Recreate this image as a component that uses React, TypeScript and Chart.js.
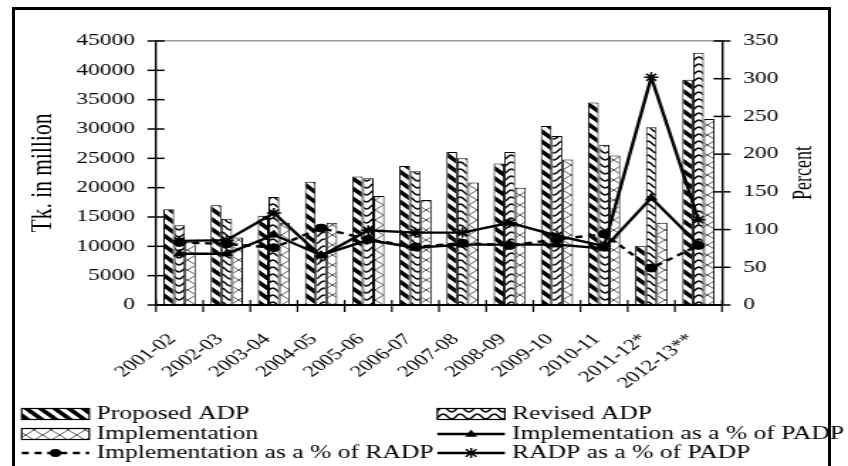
import React, { useEffect, useRef } from 'react';
import { Chart, registerables } from 'chart.js';

Chart.register(...registerables);

// ---------- data ----------
const categories = [
  '2001-02', '2002-03', '2003-04', '2004-05', '2005-06', '2006-07',
  '2007-08', '2008-09', '2009-10', '2010-11', '2011-12*', '2012-13**',
];
const proposedADP = [16300, 17000, 15200, 21000, 21900, 23700, 26100, 24100, 30500, 34500, 10100, 38400];
const revisedADP = [13600, 14700, 18400, 13700, 21600, 22800, 25000, 26100, 28800, 27300, 30300, 43000];
const implementation = [10700, 11500, 14000, 14000, 18600, 17900, 20900, 20000, 24800, 25500, 14000, 31700];
const implPctPADP = [68, 68, 93, 66, 86, 76, 80, 80, 80, 75, 142, 80];
const implPctRADP = [83, 81, 76, 102, 87, 77, 82, 79, 87, 94, 49, 79];
const radpPctPADP = [85, 86, 122, 65, 99, 96, 96, 109, 92, 78, 302, 113];

const seriesLabels = [
  'Proposed ADP',
  'Revised ADP',
  'Implementation',
  'Implementation as a % of PADP',
  'Implementation as a % of RADP',
  'RADP as a % of PADP',
];
const leftMax = 45000;
const leftStep = 5000;
const rightMax = 350;
const rightStep = 50;
const leftTitle = 'Tk. in million';
const rightTitle = 'Percent';

// ---------- layout (internal canvas units; canvas is stretched horizontally) ----------
const W = 848;
const H = 466;
const IW = 597;
const S = W / IW;
const PLOT_LEFT = 109.8;
const PLOT_RIGHT = 508.3;
const FONT = '"Liberation Serif", "Times New Roman", serif';
const LEG_COL_X = [15.3, 307.9];
const LEG_ROW_Y = [414, 434, 453];
const LEG_SW_W = 47.5;
const LEG_SW_H = 11;
const LEG_TEXT_GAP = 52.6;

function tile(w: number, h: number, draw: (c: CanvasRenderingContext2D) => void) {
  const c = document.createElement('canvas');
  c.width = w;
  c.height = h;
  const g = c.getContext('2d')!;
  g.fillStyle = '#fff';
  g.fillRect(0, 0, w, h);
  draw(g);
  return c;
}

function makePatterns(ctx: CanvasRenderingContext2D) {
  const stripes = tile(10, 10, (g) => {
    g.strokeStyle = '#000';
    g.lineWidth = 3.6;
    for (const x0 of [-10, 0, 10]) {
      g.beginPath();
      g.moveTo(x0 - 1, -1);
      g.lineTo(x0 + 11, 11);
      g.stroke();
    }
  });
  const waves = tile(12, 7, (g) => {
    g.strokeStyle = '#000';
    g.lineWidth = 1.5;
    g.beginPath();
    for (let x = 0; x <= 12; x += 0.5) {
      const y = 3.5 - 2.4 * Math.cos((2 * Math.PI * x) / 12);
      if (x === 0) g.moveTo(x, y);
      else g.lineTo(x, y);
    }
    g.stroke();
  });
  const cross = tile(12, 10, (g) => {
    g.strokeStyle = '#555';
    g.lineWidth = 1;
    g.beginPath();
    g.moveTo(0, 0);
    g.lineTo(12, 10);
    g.moveTo(12, 0);
    g.lineTo(0, 10);
    g.stroke();
  });
  return [
    ctx.createPattern(stripes, 'repeat')!,
    ctx.createPattern(waves, 'repeat')!,
    ctx.createPattern(cross, 'repeat')!,
  ];
}

function drawMarker(ctx: CanvasRenderingContext2D, style: string, x: number, y: number, r: number) {
  ctx.save();
  ctx.fillStyle = '#000';
  ctx.strokeStyle = '#000';
  ctx.lineWidth = 1.5;
  ctx.beginPath();
  if (style === 'circle') {
    ctx.arc(x, y, r, 0, Math.PI * 2);
    ctx.fill();
  } else if (style === 'triangle') {
    ctx.moveTo(x, y - r);
    ctx.lineTo(x + r * 0.95, y + r * 0.6);
    ctx.lineTo(x - r * 0.95, y + r * 0.6);
    ctx.closePath();
    ctx.fill();
  } else if (style === 'star') {
    ctx.moveTo(x, y - r);
    ctx.lineTo(x, y + r);
    const d = r * 0.75;
    ctx.moveTo(x - d, y - d);
    ctx.lineTo(x + d, y + d);
    ctx.moveTo(x + d, y - d);
    ctx.lineTo(x - d, y + d);
    ctx.stroke();
  }
  ctx.restore();
}

const decorPlugin = {
  id: 'decor',
  afterDraw(chart: any) {
    const ctx: CanvasRenderingContext2D = chart.ctx;
    const { x, y, y1 } = chart.scales;
    ctx.save();
    ctx.strokeStyle = '#000';
    const line = (ax: number, ay: number, bx: number, by: number) => {
      ctx.beginPath();
      ctx.moveTo(ax, ay);
      ctx.lineTo(bx, by);
      ctx.stroke();
    };
    // crossing tick marks
    ctx.lineWidth = 1.5;
    for (const t of y.ticks) {
      const py = y.getPixelForValue(t.value);
      line(y.right - 6, py, y.right + 6, py);
    }
    for (const t of y1.ticks) {
      const py = y1.getPixelForValue(t.value);
      line(y1.left - 6, py, y1.left + 6, py);
    }
    ctx.lineWidth = 1.2;
    const n = chart.data.labels.length;
    for (let i = 0; i <= n; i++) {
      const px = x.left + (x.width * i) / n;
      line(px, x.top - 5, px, x.top + 7);
    }

    // right axis title, reading bottom to top
    ctx.save();
    ctx.translate(566, (chart.chartArea.top + chart.chartArea.bottom) / 2);
    ctx.rotate(-Math.PI / 2);
    ctx.fillStyle = '#000';
    ctx.font = `18px ${FONT}`;
    ctx.textAlign = 'center';
    ctx.textBaseline = 'middle';
    ctx.fillText(rightTitle, 0, 0);
    ctx.restore();

    // legend (two columns)
    chart.data.datasets.forEach((ds: any, i: number) => {
      const col = i % 2;
      const row = Math.floor(i / 2);
      const sx = LEG_COL_X[col];
      const cy = LEG_ROW_Y[row];
      if (ds.type === 'bar') {
        ctx.fillStyle = ds.backgroundColor;
        ctx.fillRect(sx, cy - LEG_SW_H / 2, LEG_SW_W, LEG_SW_H);
        ctx.lineWidth = 1.2;
        ctx.strokeStyle = '#000';
        ctx.strokeRect(sx, cy - LEG_SW_H / 2, LEG_SW_W, LEG_SW_H);
      } else {
        ctx.save();
        ctx.strokeStyle = '#000';
        ctx.lineWidth = 2.4;
        ctx.setLineDash(ds.borderDash || []);
        line(sx, cy, sx + LEG_SW_W, cy);
        ctx.restore();
        drawMarker(ctx, ds.pointStyle, sx + LEG_SW_W / 2, cy, ds.pointRadius);
      }
      ctx.fillStyle = '#000';
      ctx.font = `18px ${FONT}`;
      ctx.textAlign = 'left';
      ctx.textBaseline = 'middle';
      ctx.fillText(ds.label, sx + LEG_TEXT_GAP, cy + 0.5);
    });
    ctx.restore();
  },
};

export default function App() {
  const ref = useRef<HTMLCanvasElement>(null);

  useEffect(() => {
    const canvas = ref.current;
    if (!canvas) return;
    const ctx = canvas.getContext('2d')!;
    const [pStripe, pWave, pCross] = makePatterns(ctx);

    const barCommon = {
      type: 'bar' as const,
      yAxisID: 'y',
      borderColor: '#000',
      borderWidth: 1,
      categoryPercentage: 0.685,
      barPercentage: 1,
      order: 2,
    };
    const lineCommon = {
      type: 'line' as const,
      yAxisID: 'y1',
      borderColor: '#000',
      borderWidth: 2.4,
      pointBackgroundColor: '#000',
      pointBorderColor: '#000',
      fill: false,
      tension: 0,
      order: 1,
    };

    const chart = new Chart(canvas, {
      type: 'bar',
      data: {
        labels: categories,
        datasets: [
          { ...barCommon, label: seriesLabels[0], data: proposedADP, backgroundColor: pStripe },
          { ...barCommon, label: seriesLabels[1], data: revisedADP, backgroundColor: pWave },
          { ...barCommon, label: seriesLabels[2], data: implementation, backgroundColor: pCross },
          { ...lineCommon, label: seriesLabels[3], data: implPctPADP, pointStyle: 'triangle', pointRadius: 4.5, pointBorderWidth: 1 },
          { ...lineCommon, label: seriesLabels[4], data: implPctRADP, pointStyle: 'circle', pointRadius: 4, pointBorderWidth: 1, borderDash: [5, 4] },
          { ...lineCommon, label: seriesLabels[5], data: radpPctPADP, pointStyle: 'star', pointRadius: 5, pointBorderWidth: 1.5 },
        ] as any,
      },
      options: {
        responsive: false,
        animation: false,
        devicePixelRatio: 1,
        layout: { padding: { left: 0, right: 0, top: 41, bottom: 61 } },
        plugins: {
          legend: { display: false },
          tooltip: { enabled: false },
        },
        scales: {
          x: {
            offset: true,
            grid: { display: false, drawTicks: false, offset: true },
            border: { display: true, color: '#000', width: 2 },
            ticks: {
              autoSkip: false,
              minRotation: 45,
              maxRotation: 45,
              padding: 25,
              labelOffset: -5,
              color: '#000',
              font: { family: FONT, size: 16 },
            },
            afterFit: (s: any) => {
              s.height = 100;
            },
          },
          y: {
            position: 'left',
            min: 0,
            max: leftMax,
            ticks: {
              stepSize: leftStep,
              padding: 14.8,
              color: '#000',
              font: { family: FONT, size: 16.5 },
              callback: (v: any) => String(v),
            },
            grid: {
              drawTicks: false,
              lineWidth: 1.5,
              color: (c: any) => (c.tick && c.tick.value === leftMax ? '#9a9a9a' : 'rgba(0,0,0,0)'),
            },
            border: { display: true, color: '#000', width: 1.4 },
            title: {
              display: true,
              text: leftTitle,
              color: '#000',
              font: { family: FONT, size: 21.5, lineHeight: 1 },
              padding: { top: 20, bottom: 0 },
            },
            afterFit: (s: any) => {
              s.width = PLOT_LEFT;
            },
          },
          y1: {
            position: 'right',
            min: 0,
            max: rightMax,
            ticks: {
              stepSize: rightStep,
              padding: 15,
              color: '#000',
              font: { family: FONT, size: 16.5 },
              callback: (v: any) => String(v),
            },
            grid: { display: false, drawTicks: false },
            border: { display: true, color: '#000', width: 1.4 },
            afterFit: (s: any) => {
              s.width = IW - PLOT_RIGHT;
            },
          },
        },
      } as any,
      plugins: [decorPlugin],
    });

    return () => chart.destroy();
  }, []);

  return (
    <div
      style={{
        position: 'fixed',
        left: 0,
        top: 0,
        width: W,
        height: H,
        overflow: 'hidden',
        background: '#fff',
      }}
    >
      <canvas
        ref={ref}
        width={IW}
        height={H}
        style={{
          position: 'absolute',
          left: 0,
          top: 0,
          width: IW,
          height: H,
          transform: `scaleX(${S})`,
          transformOrigin: '0 0',
        }}
      />
      <div
        style={{
          position: 'absolute',
          left: 12,
          top: 7,
          width: 819,
          height: 490,
          border: '3px solid #000',
          boxSizing: 'border-box',
          pointerEvents: 'none',
        }}
      />
    </div>
  );
}
